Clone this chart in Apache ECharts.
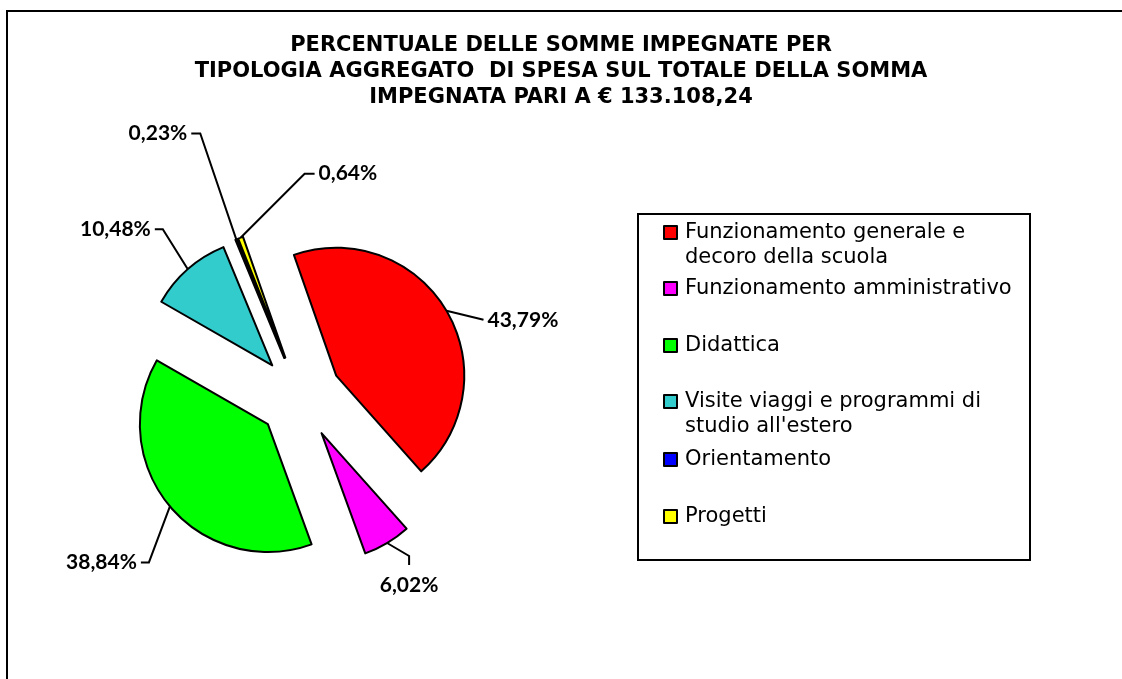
<!DOCTYPE html>
<html>
<head>
<meta charset="utf-8">
<script src="https://cdn.jsdelivr.net/npm/echarts@6/dist/echarts.min.js"></script>
<style>
  html, body { margin: 0; padding: 0; background: #fff; }
  #chart { width: 1122px; height: 679px; }
</style>
</head>
<body>
<div id="chart"></div>
<script>
const categories = [
  'Funzionamento generale e decoro della scuola',
  'Funzionamento amministrativo',
  'Didattica',
  "Visite viaggi e programmi di studio all'estero",
  'Orientamento',
  'Progetti',
];
const percentages = [43.79, 6.02, 38.84, 10.48, 0.23, 0.64];
const legendLabels = [
  'Funzionamento generale e\ndecoro della scuola',
  'Funzionamento amministrativo',
  'Didattica',
  "Visite viaggi e programmi di\nstudio all'estero",
  'Orientamento',
  'Progetti',
];
const titleText = 'PERCENTUALE DELLE SOMME IMPEGNATE PER\nTIPOLOGIA AGGREGATO  DI SPESA SUL TOTALE DELLA SOMMA\nIMPEGNATA PARI A € 133.108,24';

const colors = ['#ff0000', '#ff00ff', '#00ff00', '#33cccc', '#0000ff', '#ffff00'];
// leader line segments (relative to the slice edge point) and label side
const leaders = [
  { segs: [[37, 9]], side: 'right' },
  { segs: [[22, 13], [0, 9]], side: 'below' },
  { segs: [[-21, 56], [-8, 0]], side: 'left' },
  { segs: [[-25, -40], [-8, 0]], side: 'left' },
  { segs: [[-36, -106], [-9, 0]], side: 'left' },
  { segs: [[64, -64], [10, 0]], side: 'right' },
];
const legendTops = [215, 271, 328, 384, 442, 499];
const START_ANGLE = 109.3;
const GAP = 4;

let chartDom = document.getElementById('chart');
let myChart = echarts.init(chartDom);

const fmt = (v) => v.toFixed(2).replace('.', ',') + '%';

// work out labelLine length/length2 so the default label anchor
// lands at the end of the Excel-like leader line
const total = percentages.reduce((a, b) => a + b, 0);
let cum = 0;
const lineLens = percentages.map((v, i) => {
  const mid = (-START_ANGLE + 360 * (cum + v / 2) / total) * Math.PI / 180;
  cum += v;
  const ux = Math.cos(mid), uy = Math.sin(mid);
  const s = ux < 0 ? -1 : 1;
  const lead = leaders[i];
  let ax = 0, ay = 0;
  lead.segs.forEach((p) => { ax += p[0]; ay += p[1]; });
  if (lead.side === 'right') ax += GAP;
  else if (lead.side === 'left') ax -= GAP;
  else ay += 10;
  const l1 = ay / uy;
  const l2 = s * (ax - l1 * ux) - GAP;
  return { length: l1, length2: l2 };
});

const layoutLabel = (params) => {
  const pts = params.labelLinePoints;
  if (!pts || !pts.length) return {};
  const lead = leaders[params.dataIndex];
  const p0 = pts[0];
  const newPts = [[p0[0], p0[1]]];
  let cx = p0[0], cy = p0[1];
  lead.segs.forEach((s) => {
    cx += s[0];
    cy += s[1];
    newPts.push([cx, cy]);
  });
  if (lead.side === 'right') return { labelLinePoints: newPts, align: 'left', verticalAlign: 'middle' };
  if (lead.side === 'left') return { labelLinePoints: newPts, align: 'right', verticalAlign: 'middle' };
  return { labelLinePoints: newPts, align: 'center', verticalAlign: 'top' };
};

let option = {
  backgroundColor: '#fff',
  animation: false,
  title: {
    text: titleText,
    left: 556,
    top: 28,
    textAlign: 'center',
    textStyle: {
      fontFamily: 'DejaVu Sans',
      fontWeight: 'bold',
      fontSize: 21,
      lineHeight: 26,
      color: '#000',
    },
  },
  legend: categories.map((name, i) => ({
    data: [name],
    orient: 'vertical',
    left: 658,
    top: legendTops[i] - (legendLabels[i].includes('\n') ? 25 : 0),
    itemWidth: 13,
    itemHeight: 13,
    itemGap: 0,
    selectedMode: false,
    icon: 'rect',
    itemStyle: { borderColor: '#000', borderWidth: 2 },
    formatter: () => (legendLabels[i].includes('\n') ? ' \n' : '') + legendLabels[i],
    textStyle: {
      fontFamily: 'DejaVu Sans',
      fontSize: 21,
      lineHeight: 25,
      color: '#000',
      padding: [0, 0, 0, 3],
    },
  })),
  graphic: [
    {
      type: 'rect',
      shape: { x: 7, y: 11, width: 1130, height: 700 },
      style: { fill: 'none', stroke: '#000', lineWidth: 2 },
      silent: true,
    },
    {
      type: 'rect',
      shape: { x: 638, y: 214, width: 392, height: 346 },
      style: { fill: 'none', stroke: '#000', lineWidth: 2 },
      silent: true,
    },
  ],
  series: [
    {
      type: 'pie',
      center: [300, 397],
      radius: [0, 128],
      startAngle: START_ANGLE,
      clockwise: true,
      selectedMode: 'multiple',
      selectedOffset: 42,
      avoidLabelOverlap: false,
      itemStyle: {
        borderColor: '#000',
        borderWidth: 2,
      },
      select: {
        itemStyle: { borderColor: '#000', borderWidth: 2 },
      },
      emphasis: { disabled: true },
      label: {
        show: true,
        position: 'outside',
        formatter: (p) => fmt(p.value),
        fontFamily: 'Lato',
        fontWeight: 'bold',
        fontSize: 21,
        color: '#000',
        distanceToLabelLine: GAP,
      },
      labelLine: {
        show: true,
        lineStyle: { color: '#000', width: 2 },
      },
      labelLayout: layoutLabel,
      data: categories.map((name, i) => ({
        name: name,
        value: percentages[i],
        selected: true,
        itemStyle: { color: colors[i] },
        labelLine: lineLens[i],
      })),
    },
  ],
};

option && myChart.setOption(option);
</script>
</body>
</html>
